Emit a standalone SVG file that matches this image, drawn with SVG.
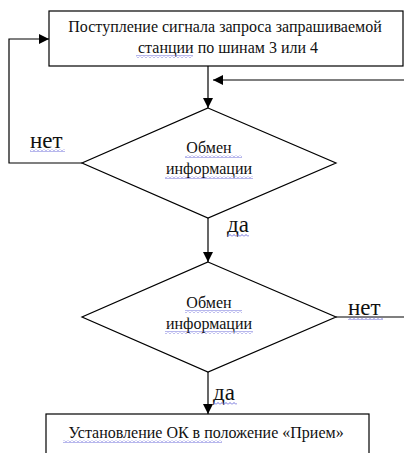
<svg xmlns="http://www.w3.org/2000/svg" width="404" height="453" viewBox="0 0 404 453">
<style>
.box{fill:#fff;stroke:#000;stroke-width:1.2}
.ln{fill:none;stroke:#000;stroke-width:1.2}
text{font-family:'Liberation Serif', 'DejaVu Serif', serif;fill:#111}
.t{font-size:16px;text-anchor:middle}
.lbl{font-size:23px}
.sq{fill:url(#wave)}
</style>
<defs>
<marker id="arr" viewBox="0 0 10 10" refX="10" refY="5" markerWidth="10" markerHeight="10" markerUnits="userSpaceOnUse" orient="auto">
<path d="M0,0 L10,5 L0,10 z" fill="#000"/>
</marker>
<pattern id="wave" x="0" y="0" width="4" height="3" patternUnits="userSpaceOnUse">
<path d="M0,2.5 L2,0.5 L4,2.5" fill="none" stroke="#4a4ad0" stroke-width="0.8"/>
</pattern>
</defs>
<rect width="404" height="453" fill="#fff"/>

<g id="connectors">
<path class="ln" d="M208,66 V108" marker-end="url(#arr)"/>
<path class="ln" d="M404,80 H213" marker-end="url(#arr)"/>
<path class="ln" d="M82,163 H9 V39 H49" marker-end="url(#arr)"/>
<path class="ln" d="M208,218 V262" marker-end="url(#arr)"/>
<path class="ln" d="M336,317 H404"/>
<path class="ln" d="M208,372 V414" marker-end="url(#arr)"/>
</g>

<g id="start">
<rect class="box" x="49" y="11" width="354" height="55"/>
<text class="t" x="225" y="32" font-family="Liberation Serif">Поступление сигнала запроса запрашиваемой</text>
<text class="t" x="228" y="53" font-family="Liberation Serif">станции по шинам 3 или 4</text>
<rect class="sq" x="136" y="55" width="57" height="3"/>
</g>

<g id="decision1">
<polygon class="box" points="208,108 336,163 208,218 82,163"/>
<text class="t" x="209" y="153">Обмен</text>
<text class="t" x="209" y="174">информации</text>
<rect class="sq" x="185" y="155" width="57" height="3"/>
<rect class="sq" x="165" y="176" width="88" height="3"/>
</g>

<g id="decision2">
<polygon class="box" points="208,262 336,317 208,372 82,317"/>
<text class="t" x="209" y="308">Обмен</text>
<text class="t" x="209" y="329">информации</text>
<rect class="sq" x="185" y="310" width="57" height="3"/>
<rect class="sq" x="165" y="331" width="88" height="3"/>
</g>

<g id="end">
<rect class="box" x="46" y="414" width="323" height="45"/>
<text class="t" x="206" y="438">Установление  ОК в положение «Прием»</text>
<rect class="sq" x="63" y="440" width="159" height="3"/>
</g>

<g id="labels">
<text class="lbl" x="30" y="148">нет</text>
<rect class="sq" x="30" y="149" width="35" height="3"/>
<text class="lbl" x="227" y="232">да</text>
<rect class="sq" x="227" y="234" width="22" height="3"/>
<text class="lbl" x="348" y="315">нет</text>
<rect class="sq" x="348" y="317" width="35" height="3"/>
<text class="lbl" x="213" y="400">да</text>
<rect class="sq" x="213" y="402" width="24" height="3"/>
</g>
</svg>
